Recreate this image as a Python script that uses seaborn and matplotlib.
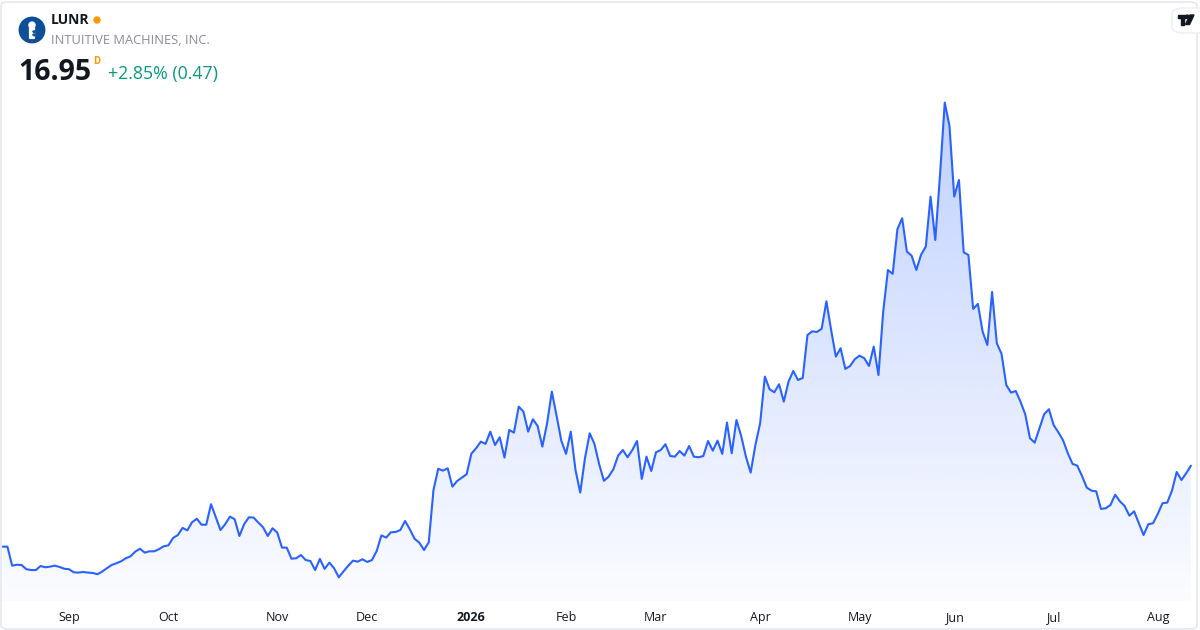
import numpy as np
import pandas as pd
import matplotlib.pyplot as plt
import seaborn as sns
from matplotlib.patches import FancyBboxPatch, Circle, Ellipse, Polygon

# daily closes, LUNR, 2025-08-12 .. 2026-08-12
closes = [
    11.93, 11.93, 10.75, 10.81, 10.79, 10.53, 10.48, 10.48, 10.73, 10.65,
    10.69, 10.75, 10.67, 10.56, 10.53, 10.34, 10.32, 10.36, 10.32, 10.30,
    10.22, 10.38, 10.59, 10.79, 10.90, 11.02, 11.21, 11.33, 11.62, 11.80,
    11.56, 11.64, 11.64, 11.77, 11.95, 12.01, 12.47, 12.65, 13.09, 12.94,
    13.44, 13.66, 13.29, 13.29, 14.56, 13.77, 12.96, 13.32, 13.79, 13.63,
    12.59, 13.32, 13.75, 13.73, 13.42, 13.13, 12.59, 13.07, 12.80, 11.87,
    11.87, 11.18, 11.21, 11.41, 11.10, 11.04, 10.48, 11.17, 10.55, 10.94,
    10.59, 10.03, 10.40, 10.75, 11.06, 11.00, 11.15, 10.98, 11.10, 11.66,
    12.63, 12.49, 12.82, 12.84, 12.96, 13.52, 13.01, 12.42, 12.18, 11.72,
    12.20, 15.44, 16.76, 16.64, 16.79, 15.65, 16.00, 16.21, 16.42, 17.69,
    18.03, 18.44, 18.30, 19.06, 18.23, 18.71, 17.45, 19.16, 19.00, 20.61,
    20.30, 19.06, 19.83, 19.41, 18.13, 19.58, 21.54, 20.05, 18.50, 17.68,
    19.06, 16.68, 15.28, 17.41, 18.96, 18.30, 17.04, 16.01, 16.27, 16.73,
    17.57, 17.92, 17.47, 17.92, 18.48, 16.13, 17.51, 16.62, 17.78, 17.92,
    18.28, 17.55, 17.51, 17.86, 17.57, 18.17, 17.51, 17.47, 17.55, 18.48,
    17.88, 18.50, 17.68, 19.62, 17.72, 19.78, 18.79, 17.51, 16.52, 18.23,
    19.58, 22.47, 21.69, 21.50, 22.00, 20.92, 22.16, 22.82, 22.26, 22.39,
    25.05, 25.28, 25.24, 25.44, 27.14, 25.36, 23.71, 24.23, 22.95, 23.13,
    23.55, 23.77, 23.61, 23.13, 24.33, 22.57, 26.50, 29.08, 28.84, 31.61,
    32.29, 30.22, 29.97, 29.08, 30.03, 30.53, 33.63, 30.94, 34.97, 39.46,
    38.01, 33.63, 34.66, 30.18, 30.01, 26.67, 26.98, 25.26, 24.43, 27.72,
    24.54, 23.88, 21.95, 21.48, 21.58, 20.92, 20.14, 18.65, 18.38, 19.27,
    20.14, 20.45, 19.47, 19.02, 18.52, 17.72, 17.06, 16.95, 16.31, 15.59,
    15.40, 15.36, 14.27, 14.31, 14.51, 15.15, 14.74, 14.45, 13.85, 14.12,
    13.38, 12.65, 13.32, 13.38, 13.96, 14.62, 14.66, 15.40, 16.56, 16.06,
    16.48, 16.95,
]

holidays = ["2025-09-01", "2025-11-27", "2025-12-25", "2026-01-01", "2026-01-19",
            "2026-02-16", "2026-04-03", "2026-05-25", "2026-06-19", "2026-07-03"]
dates = pd.date_range("2025-08-12", periods=len(closes),
                      freq=pd.offsets.CustomBusinessDay(holidays=holidays))

df = pd.DataFrame({"date": dates, "close": closes})
df["i"] = np.arange(len(df))

ticker = "LUNR"
company = "INTUITIVE MACHINES, INC."
last = "16.95"
change = "+2.85% (0.47)"

LINE = "#2962FF"
TXT = "#131722"

sns.set_style("white")
plt.rcParams["font.family"] = ["Open Sans", "DejaVu Sans"]

fig = plt.figure(figsize=(12, 6.3), dpi=100)
W, H = 1200, 630
ax = fig.add_axes([0, (H - 601) / H, 1, (601 - 90) / H])
ax.patch.set_alpha(0)

x0, x1 = -0.57, 252.92
y0, y1 = 8.56, 40.24
ax.set_xlim(x0, x1)
ax.set_ylim(y0, y1)

# gradient area under the line
poly = ax.fill_between(df["i"], df["close"], y0, color="none", lw=0)
grad = np.zeros((256, 1, 4))
grad[:, 0, 0] = 41 / 255
grad[:, 0, 1] = 98 / 255
grad[:, 0, 2] = 1.0
grad[:, 0, 3] = np.linspace(0.30, 0.02, 256)
im = ax.imshow(grad, extent=(x0, x1, y0, y1), origin="upper", aspect="auto", zorder=1)
im.set_clip_path(poly.get_paths()[0], transform=ax.transData)

sns.lineplot(data=df, x="i", y="close", color=LINE, lw=1.5, ax=ax, zorder=3)

# month ticks on first trading day
first = df.groupby([df["date"].dt.year, df["date"].dt.month])["i"].min().values[1:]
labels = []
for k in first:
    d = df["date"].iloc[k]
    labels.append(str(d.year) if d.month == 1 else d.strftime("%b"))
ax.set_xticks(first)
ax.set_xticklabels(labels)
for t in ax.get_xticklabels():
    if t.get_text() == "2026":
        t.set_fontweight("bold")
ax.tick_params(axis="x", length=0, pad=7, labelsize=9, labelcolor=TXT)
ax.set_yticks([])
ax.set_xlabel("")
ax.set_ylabel("")
sns.despine(ax=ax, left=True, bottom=True)

# card border
fig.patches.append(FancyBboxPatch((1 / W, 1 / H), 1 - 4 / W, 1 - 3 / H,
                                  boxstyle="round,pad=0,rounding_size=0.006",
                                  transform=fig.transFigure, fill=False,
                                  ec="#e0e3eb", lw=1))

def fx(px):
    return px / W

def fy(py):
    return 1 - py / H

# header logo
lax = fig.add_axes([fx(18), fy(44), 28 / W, 28 / H])
lax.set_xlim(-1.1, 1.1)
lax.set_ylim(-1.1, 1.1)
lax.set_aspect("equal")
lax.axis("off")
lax.add_patch(Circle((0, 0), 1, color="#0e4f99"))
lax.add_patch(Circle((0.0, 0.38), 0.24, color="white"))
lax.add_patch(FancyBboxPatch((-0.15, -0.62), 0.3, 0.78,
                             boxstyle="round,pad=0.04", color="white"))
lax.add_patch(Polygon([(0.2, -0.05), (0.05, -0.12), (0.2, -0.22)], color="#0e4f99"))
lax.add_patch(Polygon([(0.2, -0.3), (0.05, -0.37), (0.2, -0.47)], color="#0e4f99"))

fig.text(fx(51), fy(20), ticker, fontsize=10, fontweight="bold", color=TXT, va="center")
fig.patches.append(Ellipse((fx(97), fy(20)), 6 / W, 6 / H, color="#ff9800",
                           transform=fig.transFigure))
fig.text(fx(51), fy(41), company, fontsize=9.3, color="#8a8d96", va="center")
fig.text(fx(18), fy(72), last, fontsize=20.5, fontweight="bold", color=TXT, va="center")
fig.text(fx(93), fy(61), "D", fontsize=7, fontweight="bold", color="#ff9800", va="center")
fig.text(fx(108), fy(74), change, fontsize=12.8, color="#089981", va="center")

# tv badge
fig.patches.append(FancyBboxPatch((fx(1172), fy(33)), 40 / W, 25 / H,
                                  boxstyle="round,pad=0,rounding_size=0.01",
                                  transform=fig.transFigure, fc="white",
                                  ec="#eceef2", lw=1, zorder=5))
bax = fig.add_axes([fx(1177), fy(27), 18 / W, 14 / H], zorder=6)
bax.set_xlim(0, 18)
bax.set_ylim(0, 14)
bax.axis("off")
bax.add_patch(Polygon([(1, 12), (9, 12), (9, 9), (6.5, 9), (6.5, 2.5), (3.5, 2.5), (3.5, 9), (1, 9)],
                      color=TXT))
bax.add_patch(Circle((10.3, 10.4), 1.5, color=TXT))
bax.add_patch(Polygon([(13, 12), (17, 12), (12.5, 2.5), (8.5, 2.5)], color=TXT))

fig.savefig("out.png", dpi=100)
